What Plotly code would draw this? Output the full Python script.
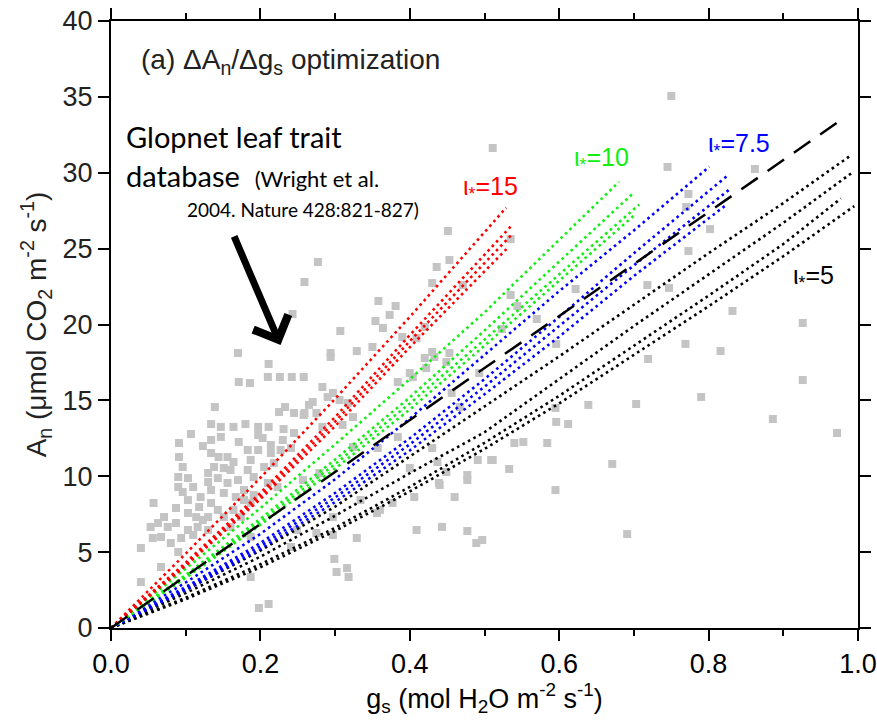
import plotly.graph_objects as go

# ---------------- data ----------------
# Glopnet observations (g_s, A_n)
obs_gs = [0.750,0.511,0.745,0.862,0.773,0.770,0.802,0.773,0.535,0.451,0.277,0.259,0.453,0.436,0.430,0.471,0.535,0.622,0.718,0.747,
          0.832,0.926,0.570,0.523,0.243,0.358,0.381,0.373,0.354,0.364,0.307,0.390,0.350,0.294,0.294,0.329,
          0.170,0.211,0.171,0.186,0.210,0.226,0.242,0.258,0.139,0.225,0.233,0.245,0.258,0.265,0.134,0.147,0.164,0.180,0.197,
          0.211,0.231,0.107,0.091,0.123,0.134,0.147,0.171,0.183,0.197,0.203,0.214,0.214,0.230,0.241,0.134,0.144,0.156,0.164,
          0.138,0.151,0.160,0.091,0.096,0.090,0.103,0.090,0.096,0.110,0.130,0.130,0.143,0.156,0.170,0.183,0.187,0.191,0.205,
          0.218,0.210,0.223,0.178,0.167,0.151,0.134,0.120,0.103,0.118,0.134,0.143,0.130,0.114,0.103,0.087,0.071,0.057,0.063,
          0.053,0.076,0.087,0.103,0.116,0.130,0.094,0.080,0.067,0.056,0.040,0.110,0.090,0.123,0.151,0.164,0.178,0.187,0.191,
          0.067,0.040,0.198,0.211,0.187,0.245,0.197,0.227,0.187,0.241,0.160,0.174,
          0.283,0.297,0.306,0.275,0.404,0.430,0.453,0.409,0.456,0.493,0.467,0.491,0.509,0.477,0.477,0.440,0.460,0.409,0.443,
          0.477,0.489,0.497,0.329,0.299,0.302,0.316,0.318,0.377,0.356,0.249,0.275,0.297,0.384,0.357,0.324,0.400,0.430,0.437,
          0.449,0.439,0.406,0.334,0.297,0.360,0.257,0.279,0.310,0.283,0.270,0.259,0.290,0.317,0.384,0.400,0.420,0.422,0.433,
          0.449,0.420,0.324,
          0.769,0.816,0.719,0.926,0.790,0.703,0.639,0.596,0.595,0.596,0.612,0.886,0.972,0.540,0.552,0.584,0.511,0.533,0.671,
          0.595,0.691,0.544]
obs_an = [35.06,31.63,30.38,30.25,28.60,27.74,26.29,24.84,25.63,26.16,24.12,22.80,24.25,23.79,22.73,22.60,21.94,22.34,22.60,22.41,
          20.89,20.10,20.36,19.70,20.69,21.55,21.22,20.63,20.23,19.77,19.57,19.18,18.52,18.12,17.86,18.25,
          18.12,17.40,16.21,16.14,16.54,16.54,16.54,16.54,14.56,14.23,14.56,14.17,14.04,14.70,13.44,13.25,13.25,13.44,13.25,
          13.25,13.11,12.78,12.19,11.99,12.39,12.59,12.26,11.73,11.73,12.52,12.06,11.53,12.39,11.86,11.53,11.27,11.27,10.94,
          10.61,10.54,10.41,11.27,10.61,9.95,9.88,9.29,8.96,9.29,10.21,9.62,9.88,9.56,9.75,10.41,11.07,9.95,10.61,
          10.87,9.56,9.29,9.09,8.63,8.90,9.09,8.63,8.43,7.97,8.24,7.78,7.31,7.31,7.58,7.91,7.31,8.24,6.92,
          6.66,6.66,6.92,6.46,6.66,6.46,5.93,5.60,6.00,5.93,5.27,6.13,5.01,7.12,7.31,7.78,8.43,8.24,8.76,
          4.02,3.03,1.32,1.58,3.36,12.85,12.72,11.73,6.00,5.34,6.66,7.31,
          15.88,15.49,15.02,14.17,16.54,18.19,18.12,19.11,15.49,16.80,14.56,11.07,11.07,10.08,9.75,9.42,8.63,6.46,6.66,
          6.39,5.60,5.80,5.93,4.55,3.69,3.95,3.36,8.24,7.58,6.46,6.26,7.31,12.59,11.86,11.93,10.54,11.86,10.94,
          10.28,9.56,8.63,8.43,6.13,7.78,9.75,10.21,13.38,13.25,14.89,14.17,15.22,14.83,16.21,16.80,17.79,17.13,17.86,
          17.53,19.84,13.90,
          18.72,18.25,17.73,16.34,15.22,14.76,14.70,18.72,14.50,13.58,13.44,13.77,12.85,12.19,12.26,12.19,11.07,10.48,10.81,
          9.09,6.19,21.22]

# Model trajectories, iota* = 15 (red)
red_gs = [[0, 0.1, 0.2, 0.3, 0.4, 0.529],
          [0, 0.1, 0.2, 0.3, 0.4, 0.536],
          [0, 0.1, 0.2, 0.3, 0.4, 0.536],
          [0, 0.1, 0.2, 0.3, 0.4, 0.532]]
red_an = [[0, 4.9, 9.9, 15.1, 20.5, 27.7],
          [0, 4.3, 8.9, 13.9, 19.3, 26.5],
          [0, 4.2, 8.7, 13.6, 18.9, 25.9],
          [0, 4.1, 8.5, 13.3, 18.5, 25.1]]
# iota* = 10 (green)
green_gs = [[0, 0.1, 0.2, 0.3, 0.4, 0.5, 0.680],
            [0, 0.1, 0.2, 0.3, 0.4, 0.5, 0.698],
            [0, 0.1, 0.2, 0.3, 0.4, 0.5, 0.707],
            [0, 0.1, 0.2, 0.3, 0.4, 0.5, 0.703]]
green_an = [[0, 3.9, 7.9, 12.1, 16.4, 20.8, 29.4],
            [0, 3.5, 7.2, 11.1, 15.2, 19.6, 28.6],
            [0, 3.4, 7.0, 10.8, 14.8, 19.0, 27.9],
            [0, 3.3, 6.8, 10.5, 14.4, 18.6, 27.3]]
# iota* = 7.5 (blue)
blue_gs = [[0, 0.1, 0.2, 0.3, 0.4, 0.5, 0.6, 0.7, 0.801],
           [0, 0.1, 0.2, 0.3, 0.4, 0.5, 0.6, 0.7, 0.825],
           [0, 0.1, 0.2, 0.3, 0.4, 0.5, 0.6, 0.7, 0.828],
           [0, 0.1, 0.2, 0.3, 0.4, 0.5, 0.6, 0.7, 0.824]]
blue_an = [[0, 3.0, 6.2, 9.8, 13.8, 18.0, 22.2, 26.2, 30.4],
           [0, 2.7, 5.6, 8.9, 12.5, 16.4, 20.5, 24.7, 29.8],
           [0, 2.6, 5.4, 8.6, 12.1, 15.9, 19.9, 23.9, 28.9],
           [0, 2.5, 5.2, 8.3, 11.7, 15.4, 19.2, 23.2, 27.9]]
# iota* = 5 (black)
black_gs = [[0, 0.1, 0.2, 0.3, 0.4, 0.5, 0.6, 0.7, 0.8, 0.9, 0.992],
            [0, 0.1, 0.2, 0.3, 0.4, 0.5, 0.6, 0.7, 0.8, 0.9, 0.992],
            [0, 0.1, 0.2, 0.3, 0.4, 0.5, 0.6, 0.7, 0.8, 0.9, 0.977],
            [0, 0.1, 0.2, 0.3, 0.4, 0.5, 0.6, 0.7, 0.8, 0.9, 0.995]]
black_an = [[0, 2.5, 5.1, 8.0, 11.3, 14.6, 17.9, 21.3, 24.7, 28.0, 31.2],
            [0, 2.3, 4.7, 7.4, 10.2, 12.9, 16.4, 19.9, 23.3, 26.7, 30.0],
            [0, 2.0, 4.2, 6.6, 9.3, 12.2, 15.3, 18.6, 21.9, 25.3, 28.3],
            [0, 1.9, 4.0, 6.4, 9.0, 11.8, 14.8, 18.0, 21.2, 24.5, 27.8]]
# reference dashed line
dash_gs = [0, 0.972]
dash_an = [0, 33.3]

x_ticks = [0.0, 0.2, 0.4, 0.6, 0.8, 1.0]
y_ticks = [0, 5, 10, 15, 20, 25, 30, 35, 40]

# ---------------- figure ----------------
fig = go.Figure()
fig.add_trace(go.Scatter(x=obs_gs, y=obs_an, mode="markers",
                         marker=dict(symbol="square", size=8, color="#c4c4c4"),
                         showlegend=False, hoverinfo="skip"))

def add_family(xs, ys, color):
    for xx, yy in zip(xs, ys):
        fig.add_trace(go.Scatter(x=xx, y=yy, mode="lines",
                                 line=dict(color=color, width=2.6, dash="2.6px,3.6px"),
                                 showlegend=False, hoverinfo="skip"))

add_family(black_gs, black_an, "black")
add_family(blue_gs, blue_an, "#0000ff")
add_family(green_gs, green_an, "#11ee11")
add_family(red_gs, red_an, "#ff0000")
fig.add_trace(go.Scatter(x=dash_gs, y=dash_an, mode="lines",
                         line=dict(color="black", width=2.5, dash="20px,12px"),
                         showlegend=False, hoverinfo="skip"))

narrow = "Liberation Sans Narrow, Arial Narrow, Liberation Sans, Arial, sans-serif"
arial = "Liberation Sans, Arial, sans-serif"
calib = "Lato, Noto Sans, sans-serif"

annots = [
    dict(x=0.037, y=37.3, text="(a) ΔA<sub>n</sub>/Δg<sub>s</sub> optimization",
         font=dict(family=arial, size=28, color="#222222"), xanchor="left", yanchor="middle"),
    dict(x=0.018, y=32.4, text="Glopnet leaf trait",
         font=dict(family=calib, size=29, color="black"), xanchor="left", yanchor="middle"),
    dict(x=0.018, y=29.85, text="database  <span style='font-size:22px'>(Wright et al.</span>",
         font=dict(family=calib, size=29, color="black"), xanchor="left", yanchor="middle"),
    dict(x=0.415, y=27.6, text="2004. Nature 428:821-827)",
         font=dict(family=calib, size=19, color="black"), xanchor="right", yanchor="middle"),
    dict(x=0.508, y=29.0, text="ι<sub>*</sub>=15", font=dict(family=arial, size=25, color="#ff0000"),
         xanchor="center", yanchor="middle"),
    dict(x=0.657, y=30.9, text="ι<sub>*</sub>=10", font=dict(family=arial, size=25, color="#11ee11"),
         xanchor="center", yanchor="middle"),
    dict(x=0.841, y=31.8, text="ι<sub>*</sub>=7.5", font=dict(family=arial, size=25, color="#0000ff"),
         xanchor="center", yanchor="middle"),
    dict(x=0.941, y=23.1, text="ι<sub>*</sub>=5", font=dict(family=arial, size=25, color="black"),
         xanchor="center", yanchor="middle"),
]
for a in annots:
    a.update(xref="x", yref="y", showarrow=False)

annots.append(dict(x=0.227, y=18.65, ax=0.164, ay=25.9, xref="x", yref="y", axref="x", ayref="y",
                   text="", showarrow=True, arrowhead=4, arrowsize=1.05, arrowwidth=7,
                   arrowcolor="black"))

axis_common = dict(showline=True, linecolor="black", linewidth=2, mirror="allticks",
                   ticks="outside", ticklen=11, tickwidth=2, tickcolor="black",
                   showgrid=False, zeroline=False, automargin=False)

fig.update_layout(
    width=877, height=724,
    margin=dict(l=111, r=19, t=21, b=96),
    plot_bgcolor="white", paper_bgcolor="white",
    annotations=annots,
    xaxis=dict(range=[0, 1.0], tickvals=x_ticks, tickformat=".1f",
               tickfont=dict(family=narrow, size=27, color="black"),
               minor=dict(dtick=0.1, ticks="outside", ticklen=6, tickwidth=2, tickcolor="black"),
               title=dict(text="g<sub>s</sub> (mol H<sub>2</sub>O m<sup>-2</sup> s<sup>-1</sup>)",
                          font=dict(family=narrow, size=27, color="black"), standoff=10),
               **axis_common),
    yaxis=dict(range=[0, 40], tickvals=y_ticks,
               tickfont=dict(family=arial, size=27, color="#222222"),
               title=dict(text="A<sub>n</sub> (μmol CO<sub>2</sub> m<sup>-2</sup> s<sup>-1</sup>)",
                          font=dict(family=arial, size=28, color="#222222"), standoff=8),
               **axis_common),
)

fig.write_html("out.html")
